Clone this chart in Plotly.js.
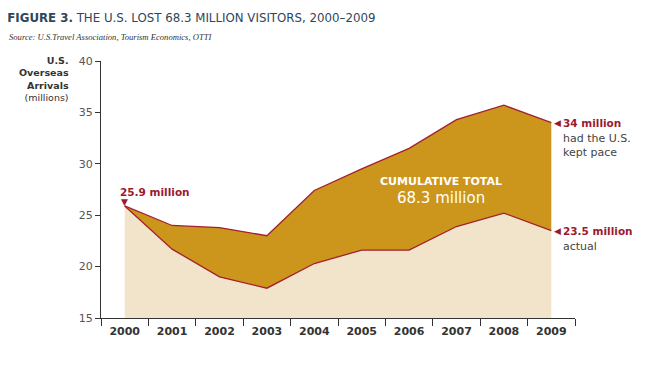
<!DOCTYPE html>
<html>
<head>
<meta charset="utf-8">
<script src="https://cdn.plot.ly/plotly-3.0.1.min.js"></script>
<style>body{margin:0;background:#fff}#chart{width:660px;height:375px}</style>
</head>
<body>
<div id="chart"></div>
<script>
const years = ["2000","2001","2002","2003","2004","2005","2006","2007","2008","2009"];
const actual = [25.9, 21.7, 19.0, 17.9, 20.3, 21.6, 21.6, 23.9, 25.2, 23.5];
const keptPace = [25.9, 24.0, 23.8, 23.0, 27.4, 29.5, 31.5, 34.3, 35.7, 34.0];
const yTicks = [15, 20, 25, 30, 35, 40];

const RED = '#a3202f';
const LABEL_RED = '#9b1a2f';
const GOLD = '#cc951b';
const BEIGE = '#f2e4ca';
const FONT = 'DejaVu Sans, sans-serif';

const traces = [
  {x: years, y: actual, type: 'scatter', mode: 'lines', fill: 'tozeroy',
   fillcolor: BEIGE, line: {color: RED, width: 1.3}, hoverinfo: 'skip'},
  {x: years, y: keptPace, type: 'scatter', mode: 'lines', fill: 'tonexty',
   fillcolor: GOLD, line: {color: RED, width: 1.3}, hoverinfo: 'skip'}
];

const first = 0;
const last = years.length - 1;
const annotations = [
  {xref: 'paper', yref: 'paper', x: -0.063, y: 1, xanchor: 'right', yanchor: 'top', yshift: 8,
   align: 'right', showarrow: false,
   text: '<b>U.S.</b><br><b>Overseas</b><br><b>Arrivals</b><br>(millions)',
   font: {family: FONT, size: 9.5, color: '#333'}},
  {x: first, y: actual[first], xanchor: 'center', yanchor: 'middle', yshift: 4, showarrow: false,
   text: '▼', font: {family: FONT, size: 9, color: LABEL_RED}},
  {x: first, y: actual[first], xanchor: 'left', yanchor: 'middle', xshift: -7, yshift: 14, showarrow: false,
   text: '<b>' + actual[first] + ' million</b>', font: {family: FONT, size: 10.5, color: LABEL_RED}},
  {x: last, y: keptPace[last], xanchor: 'left', yanchor: 'middle', xshift: 1, showarrow: false,
   text: '◀', font: {family: FONT, size: 9, color: LABEL_RED}},
  {x: last, y: keptPace[last], xanchor: 'left', yanchor: 'middle', xshift: 10, showarrow: false,
   text: '<b>' + keptPace[last] + ' million</b>', font: {family: FONT, size: 10.5, color: LABEL_RED}},
  {x: last, y: keptPace[last], xanchor: 'left', yanchor: 'top', xshift: 10, yshift: -7, showarrow: false,
   align: 'left', text: 'had the U.S.<br>kept pace', font: {family: FONT, size: 11, color: '#444'}},
  {x: last, y: actual[last], xanchor: 'left', yanchor: 'middle', xshift: 1, showarrow: false,
   text: '◀', font: {family: FONT, size: 9, color: LABEL_RED}},
  {x: last, y: actual[last], xanchor: 'left', yanchor: 'middle', xshift: 10, showarrow: false,
   text: '<b>' + actual[last] + ' million</b>', font: {family: FONT, size: 10.5, color: LABEL_RED}},
  {x: last, y: actual[last], xanchor: 'left', yanchor: 'top', xshift: 10, yshift: -7, showarrow: false,
   align: 'left', text: 'actual', font: {family: FONT, size: 11, color: '#444'}},
  {xref: 'paper', yref: 'paper', x: 0.717, y: 0.533, xanchor: 'center', yanchor: 'middle', showarrow: false,
   text: '<b>CUMULATIVE TOTAL</b>', font: {family: FONT, size: 11, color: '#fff'}},
  {xref: 'paper', yref: 'paper', x: 0.717, y: 0.468, xanchor: 'center', yanchor: 'middle', showarrow: false,
   text: '68.3 million', font: {family: FONT, size: 15, color: '#fff'}},
  {xref: 'paper', yref: 'paper', x: -0.198, y: 1.095, xanchor: 'left', yanchor: 'middle', showarrow: false,
   text: '<i>Source: U.S.Travel Association, Tourism Economics, OTTI</i>',
   font: {family: 'Liberation Serif, serif', size: 8.6, color: '#333'}}
];

const layout = {
  width: 660, height: 375,
  margin: {l: 101, r: 85, t: 61, b: 57},
  paper_bgcolor: '#fff', plot_bgcolor: '#fff',
  showlegend: false,
  title: {text: '<b>FIGURE 3.</b> THE U.S. LOST 68.3 MILLION VISITORS, 2000–2009',
          x: 0.011, xref: 'container', xanchor: 'left', y: 0.953, yref: 'container', yanchor: 'middle',
          font: {family: FONT, size: 11.8, color: '#2f465a'}},
  xaxis: {type: 'category', range: [-0.5, 9.5], tickson: 'boundaries', ticks: 'outside', ticklen: 7,
          tickcolor: '#333', showline: true, linecolor: '#333', linewidth: 1, showgrid: false, zeroline: false,
          ticklabelstandoff: 3,
          tickfont: {family: FONT, size: 11, color: '#333', weight: 'bold'}, fixedrange: true},
  yaxis: {range: [15, 40], tickvals: yTicks, ticks: 'outside', ticklen: 5, tickcolor: '#333',
          showline: true, linecolor: '#333', linewidth: 1, showgrid: false, zeroline: false,
          tickfont: {family: FONT, size: 11, color: '#555'}, fixedrange: true},
  annotations: annotations
};

Plotly.newPlot('chart', traces, layout, {displayModeBar: false, staticPlot: true});
</script>
</body>
</html>
